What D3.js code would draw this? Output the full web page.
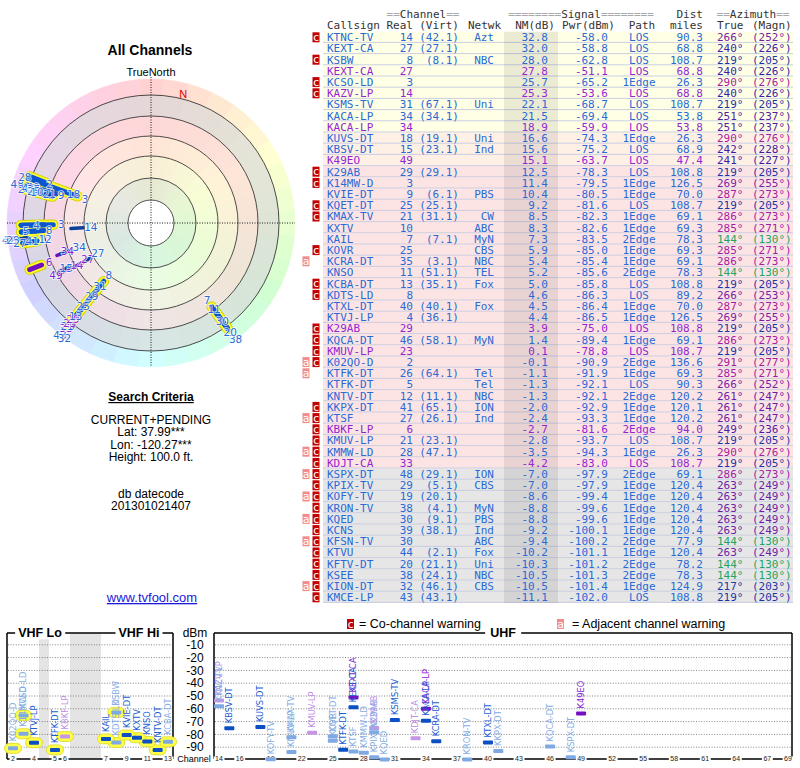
<!DOCTYPE html>
<html>
<head>
<meta charset="utf-8">
<title>All Channels</title>
<script src="https://cdn.jsdelivr.net/npm/d3@7"></script>
<style>
  body { margin: 0; background: #fff; }
  svg { display: block; }
</style>
</head>
<body>
<svg id="chart" width="800" height="768"></svg>
<script>
// ---- station list, in table order (strongest NM first) ----
var callsigns = ["KTNC-TV","KEXT-CA","KSBW","KEXT-CA","KCSO-LD","KAZV-LP","KSMS-TV","KACA-LP","KACA-LP","KUVS-DT",
  "KBSV-DT","K49EO","K29AB","K14MW-D","KVIE-DT","KQET-DT","KMAX-TV","KXTV","KAIL","KOVR",
  "KCRA-DT","KNSO","KCBA-DT","KDTS-LD","KTXL-DT","KTVJ-LP","K29AB","KQCA-DT","KMUV-LP","K02QO-D",
  "KTFK-DT","KTFK-DT","KNTV-DT","KKPX-DT","KTSF","KBKF-LP","KMUV-LP","KMMW-LD","KDJT-CA","KSPX-DT",
  "KPIX-TV","KOFY-TV","KRON-TV","KQED","KCNS","KFSN-TV","KTVU","KFTV-DT","KSEE","KION-DT","KMCE-LP"];
var realCh = [14,27,8,27,3,14,31,34,34,18, 15,49,29,3,9,25,21,10,7,25, 35,11,13,8,40,4,29,46,23,2,
  26,5,12,41,27,6,21,28,33,48, 29,19,38,30,39,30,44,20,38,32,43];
var virtCh = ["42.1","27.1","8.1","","","","67.1","34.1","","19.1", "23.1","","29.1","","6.1","25.1","31.1","","7.1","",
  "3.1","51.1","35.1","","40.1","36.1","","58.1","","", "64.1","","11.1","65.1","26.1","","23.1","47.1","","29.1",
  "5.1","20.1","4.1","9.1","38.1","","2.1","21.1","24.1","46.1","43.1"];
var networks = ["Azt","","NBC","","","","Uni","","","Uni", "Ind","","","","PBS","","CW","ABC","MyN","CBS",
  "NBC","TEL","Fox","","Fox","","","MyN","","", "Tel","Tel","NBC","ION","Ind","","","","","ION",
  "CBS","","MyN","PBS","Ind","ABC","Fox","Uni","NBC","CBS",""];
var nmDb = [32.8,32.0,28.0,27.8,25.7,25.3,22.1,21.5,18.9,16.6, 15.6,15.1,12.5,11.4,10.4,9.2,8.5,8.3,7.3,5.9,
  5.4,5.2,5.0,4.6,4.5,4.4,3.9,1.4,0.1,-0.1, -1.1,-1.3,-1.3,-2.0,-2.4,-2.7,-2.8,-3.5,-4.2,-7.0,
  -7.0,-8.6,-8.8,-8.8,-9.2,-9.4,-10.2,-10.3,-10.5,-10.5,-11.1];
var pwrDbm = [-58.0,-58.8,-62.8,-51.1,-65.2,-53.6,-68.7,-69.4,-59.9,-74.3, -75.2,-63.7,-78.3,-79.5,-80.5,-81.6,-82.3,-82.6,-83.5,-85.0,
  -85.4,-85.6,-85.8,-86.3,-86.4,-86.5,-75.0,-89.4,-78.8,-90.9, -91.9,-92.1,-92.1,-92.9,-93.3,-81.6,-93.7,-94.3,-83.0,-97.9,
  -97.9,-99.4,-99.6,-99.6,-100.1,-100.2,-101.1,-101.2,-101.3,-101.4,-102.0];
var paths = ["LOS","LOS","LOS","LOS","1Edge","LOS","LOS","LOS","LOS","1Edge", "LOS","LOS","LOS","1Edge","1Edge","LOS","1Edge","1Edge","2Edge","1Edge",
  "1Edge","2Edge","LOS","LOS","1Edge","1Edge","LOS","1Edge","LOS","2Edge", "1Edge","LOS","2Edge","1Edge","1Edge","2Edge","LOS","1Edge","LOS","2Edge",
  "1Edge","1Edge","1Edge","1Edge","1Edge","2Edge","1Edge","2Edge","2Edge","1Edge","LOS"];
var distMiles = [90.3,68.8,108.7,68.8,26.3,68.8,108.7,53.8,53.8,26.3, 68.9,47.4,108.8,126.5,70.0,108.7,69.1,69.3,78.3,69.3,
  69.1,78.3,108.8,89.2,70.0,126.5,108.8,69.1,108.7,136.6, 69.3,90.3,120.2,120.1,120.2,94.0,108.7,26.3,108.7,69.1,
  120.4,120.4,120.4,120.4,120.4,77.9,120.4,78.2,78.3,124.9,108.8];
var azTrue = [266,240,219,240,290,240,219,251,251,290, 242,241,219,269,287,219,286,285,144,285,
  286,144,219,266,287,269,219,286,219,291, 285,266,261,261,261,249,219,290,219,286,
  263,263,263,263,263,144,263,144,144,217,219];
var azMagn = [252,226,205,226,276,226,205,237,237,276, 228,227,205,255,273,205,273,271,130,271,
  273,130,205,253,273,255,205,273,205,277, 271,252,247,247,247,236,205,276,205,273,
  249,249,249,249,249,130,249,130,130,203,205];
var isAnalog = [0,0,0,1,0,1,0,0,1,0, 0,1,0,0,0,0,0,0,0,0, 0,0,0,0,0,0,1,0,1,0, 0,0,0,0,0,1,0,0,1,0, 0,0,0,0,0,0,0,0,0,0,0];
var coWarn   = [1,0,1,0,1,1,0,0,0,0, 0,0,1,1,0,1,1,0,0,1, 0,0,1,1,0,0,1,1,1,1, 0,0,0,1,1,1,1,1,1,1, 1,1,1,1,1,1,1,1,1,1,1];
var adjWarn  = [0,0,0,0,0,0,0,0,0,0, 0,0,0,0,0,0,0,0,0,0, 1,0,0,0,0,0,0,0,0,1, 1,0,0,0,1,0,0,1,0,1, 0,1,0,1,0,1,0,0,0,1,0];

var vhfTicks = [2, 4, 5, 6, 7, 9, 11, 13];
var uhfTicks = [14,16,19,22,25,28,31,34,37,40,43,46,49,52,55,58,61,64,67,69];
var dbmTicks = [-10,-20,-30,-40,-50,-60,-70,-80,-90];
var criteria = ["CURRENT+PENDING", "Lat: 37.99***", "Lon: -120.27***", "Height: 100.0 ft."];
var datecode = ["db datecode", "201301021407"];
var declination = 14;

var MONO = "'DejaVu Sans Mono', monospace";
var SANS = "'Liberation Sans', Arial, sans-serif";
var VERD = "'DejaVu Sans', Verdana, sans-serif";

var svg = d3.select("#chart");
var n = callsigns.length;
var stations = d3.range(n).map(function(i) {
  return { i: i, call: callsigns[i], ch: realCh[i], virt: virtCh[i], net: networks[i],
    nm: nmDb[i], pwr: pwrDbm[i], path: paths[i], dist: distMiles[i],
    azT: azTrue[i], azM: azMagn[i], analog: isAnalog[i] == 1, co: coWarn[i] == 1, adj: adjWarn[i] == 1 };
});

function textColor(d) { return d.analog ? "#9326d0" : "#2a6ad6"; }
function markColor(d) {
  if (d.analog) return d.co ? "#c596e6" : "#7410c0";
  return d.co ? "#7fa9e2" : "#0b4fc4";
}
function labelColor(d) {
  if (d.analog) return d.co ? "#c08ee4" : "#8a22d2";
  return d.co ? "#86aee4" : "#1b5ed2";
}
function azColor(az) { return d3.hsl((az * 1.05) % 360, 0.7, 0.38) + ""; }

// text with a white box behind it (used to break frame lines)
function boxedText(g, x, y, txt, size, weight, pad) {
  var t = g.append("text").attr("x", x).attr("y", y).attr("dy", "0.35em")
    .attr("text-anchor", "middle").attr("font-size", size)
    .attr("font-weight", weight || "normal").text(txt);
  var b = t.node().getBBox();
  g.insert("rect", function() { return t.node(); })
    .attr("x", b.x - pad).attr("y", b.y + 1).attr("width", b.width + 2 * pad).attr("height", b.height - 2)
    .attr("fill", "#fff");
  return t;
}

// ================= TABLE =================
var table = svg.append("g").attr("font-family", MONO).attr("font-size", 11);
var rowBand = d3.scaleBand().domain(d3.range(n)).range([31.7, 31.7 + n * 11.2]);
var rowFill = d3.scaleThreshold().domain([-5, 13, 17.5])
  .range(["#e6e6e6", "#fde4e4", "#fff0e6", "#ffffe6"]);

table.selectAll("rect.row").data(stations).enter().append("rect")
  .attr("class", "row")
  .attr("x", 323).attr("width", 470)
  .attr("y", function(d) { return rowBand(d.i); })
  .attr("height", rowBand.bandwidth())
  .attr("fill", function(d) { return rowFill(d.nm); });

table.selectAll("line.sep").data(stations).enter().append("line")
  .attr("x1", 323).attr("x2", 793)
  .attr("y1", function(d) { return rowBand(d.i) + rowBand.bandwidth() - 0.5; })
  .attr("y2", function(d) { return rowBand(d.i) + rowBand.bandwidth() - 0.5; })
  .attr("stroke", "#c5cadf").attr("stroke-width", 0.9);

// darker NM column
table.append("rect").attr("x", 504).attr("width", 54)
  .attr("y", rowBand.range()[0]).attr("height", rowBand.range()[1] - rowBand.range()[0])
  .attr("fill", "#000").attr("fill-opacity", 0.08);

// header
var hdr1 = [
  { x: 423, anchor: "middle", parts: ["==", "Channel", "=="] },
  { x: 581, anchor: "middle", parts: ["========", "Signal", "========"] },
  { x: 703, anchor: "end", parts: ["", "Dist", ""] },
  { x: 753, anchor: "middle", parts: ["==", "Azimuth", "=="] }
];
hdr1.forEach(function(h) {
  var t = table.append("text").attr("x", h.x).attr("y", 14.3).attr("dy", "0.35em")
    .attr("text-anchor", h.anchor);
  h.parts.forEach(function(p, k) {
    t.append("tspan").attr("fill", k == 1 ? "#333" : "#a8a8a8").text(p);
  });
});
var hdr2 = [
  { x: 327, anchor: "start", t: "Callsign" }, { x: 413, anchor: "end", t: "Real" },
  { x: 459, anchor: "end", t: "(Virt)" }, { x: 468, anchor: "start", t: "Netwk" },
  { x: 555, anchor: "end", t: "NM(dB)" }, { x: 615, anchor: "end", t: "Pwr(dBm)" },
  { x: 642, anchor: "middle", t: "Path" }, { x: 703, anchor: "end", t: "miles" },
  { x: 717, anchor: "start", t: "True" }, { x: 752, anchor: "start", t: "(Magn)" }
];
table.selectAll("text.h2").data(hdr2).enter().append("text")
  .attr("x", function(d) { return d.x; }).attr("y", 25.6).attr("dy", "0.35em")
  .attr("text-anchor", function(d) { return d.anchor; })
  .attr("fill", "#333").text(function(d) { return d.t; });

var cols = [
  { x: 327, anchor: "start", f: function(d) { return d.call; } },
  { x: 413, anchor: "end", f: function(d) { return d.ch; } },
  { x: 459, anchor: "end", f: function(d) { return d.virt ? "(" + d.virt + ")" : ""; } },
  { x: 494, anchor: "end", f: function(d) { return d.net; } },
  { x: 548, anchor: "end", f: function(d) { return d.nm.toFixed(1); } },
  { x: 608, anchor: "end", f: function(d) { return d.pwr.toFixed(1); } },
  { x: 639, anchor: "middle", f: function(d) { return d.path; } },
  { x: 703, anchor: "end", f: function(d) { return d.dist.toFixed(1); } },
  { x: 717, anchor: "start", az: true, f: function(d) { return d.azT + "\u00b0"; } },
  { x: 752, anchor: "start", az: true, f: function(d) { return "(" + d.azM + "\u00b0)"; } }
];
var rows = table.selectAll("g.r").data(stations).enter().append("g")
  .attr("transform", function(d) { return "translate(0," + (rowBand(d.i) + rowBand.bandwidth() / 2) + ")"; });
cols.forEach(function(c) {
  rows.append("text").attr("x", c.x).attr("dy", "0.35em").attr("text-anchor", c.anchor)
    .attr("fill", function(d) { return c.az ? azColor(d.azT) : textColor(d); })
    .text(c.f);
});
// warning flags
var coRows = rows.filter(function(d) { return d.co; });
coRows.append("rect").attr("x", 312.5).attr("y", -5).attr("width", 7).attr("height", 10).attr("fill", "#c20000");
coRows.append("text").attr("x", 316).attr("dy", "0.33em").attr("text-anchor", "middle")
  .attr("fill", "#fff").attr("font-size", 11).text("c");
var adjRows = rows.filter(function(d) { return d.adj; });
adjRows.append("rect").attr("x", 302.5).attr("y", -5).attr("width", 7).attr("height", 10).attr("fill", "#f28b8b");
adjRows.append("text").attr("x", 306).attr("dy", "0.33em").attr("text-anchor", "middle")
  .attr("fill", "#fff").attr("font-size", 11).text("a");

// ================= LEFT PANEL TEXT =================
var left = svg.append("g").attr("font-family", SANS).attr("text-anchor", "middle").attr("fill", "#000");
left.append("text").attr("x", 150).attr("y", 55).attr("font-size", 14).attr("font-weight", "bold").text("All Channels");
left.append("text").attr("x", 151).attr("y", 76).attr("font-size", 11).text("TrueNorth");
left.append("text").attr("x", 151).attr("y", 401).attr("font-size", 12).attr("font-weight", "bold")
  .attr("text-decoration", "underline").text("Search Criteria");
left.selectAll("text.crit").data(criteria).enter().append("text")
  .attr("x", 151).attr("y", function(d, k) { return 424 + k * 12.3; })
  .attr("font-size", 12).text(function(d) { return d; });
left.selectAll("text.date").data(datecode).enter().append("text")
  .attr("x", 151).attr("y", function(d, k) { return 498 + k * 12.3; })
  .attr("font-size", 12).text(function(d) { return d; });
left.append("text").attr("x", 152).attr("y", 602).attr("font-size", 13).attr("fill", "#1a1ad8")
  .attr("text-decoration", "underline").text("www.tvfool.com");

// ================= POLAR PLOT =================
var cx = 151, cy = 223;
var polar = svg.append("g").attr("transform", "translate(" + cx + "," + cy + ")");
var rS = d3.scaleLinear().domain([33, -12]).range([68, 130]).clamp(true);
var arc = d3.arc();
function rad(a) { return a * Math.PI / 180; }
function pxy(az, r) { return [r * Math.sin(rad(az)), -r * Math.cos(rad(az))]; }

var sectors = d3.range(0, 360, 10);
polar.selectAll("path.sec").data(sectors).enter().append("path")
  .attr("d", function(a) { return arc({ innerRadius: 127, outerRadius: 144, startAngle: rad(a - 5), endAngle: rad(a + 5) }); })
  .attr("fill", function(a) { return d3.hsl(a, 1, 0.91) + ""; })
  .attr("stroke", function(a) { return d3.hsl(a, 1, 0.91) + ""; }).attr("stroke-width", 0.6);
var rings = [
  { r0: 107, r1: 128, c: "#e3e3e3" }, { r0: 87, r1: 107, c: "#fde3e3" },
  { r0: 67, r1: 87, c: "#fff3e4" }, { r0: 45, r1: 67, c: "#f8fde2" },
  { r0: 23, r1: 45, c: "#e6f7e0" }, { r0: 0, r1: 23, c: "#ffffff" }
];
polar.selectAll("path.ring").data(rings).enter().append("path")
  .attr("d", function(d) { return arc({ innerRadius: d.r0, outerRadius: d.r1, startAngle: 0, endAngle: 2 * Math.PI }); })
  .attr("fill", function(d) { return d.c; });
// faint directional tint
polar.selectAll("path.tint").data(sectors).enter().append("path")
  .attr("d", function(a) { return arc({ innerRadius: 23, outerRadius: 128, startAngle: rad(a - 5), endAngle: rad(a + 5) }); })
  .attr("fill", function(a) { return d3.hsl(a, 1, 0.6) + ""; }).attr("fill-opacity", 0.07);
polar.selectAll("circle.gr").data([23, 45, 67, 87, 107, 128]).enter().append("circle")
  .attr("r", function(d) { return d; }).attr("fill", "none").attr("stroke", "#222").attr("stroke-width", 0.8);
polar.append("line").attr("x1", -144).attr("x2", 144).attr("stroke", "#000").attr("stroke-width", 0.9).attr("stroke-dasharray", "1,1.5");
polar.append("line").attr("y1", -146).attr("y2", 144).attr("stroke", "#000").attr("stroke-width", 0.9).attr("stroke-dasharray", "1,1.5");
var nPos = pxy(declination, 133);
polar.append("text").attr("x", nPos[0]).attr("y", nPos[1]).attr("dy", "0.35em").attr("text-anchor", "middle")
  .attr("font-family", SANS).attr("font-size", 11).attr("fill", "#e00000").text("N");

stations.forEach(function(d) {
  d.vhf = d.ch <= 13;
  d.r0 = rS(d.nm);
  d.r1 = d.vhf ? 130 : Math.min(d.r0 + 12, 132);
});
var byWeak = stations.slice().sort(function(a, b) { return a.nm - b.nm; });
var vhfOnly = byWeak.filter(function(d) { return d.vhf; });
function seg(sel) {
  return sel.attr("x1", function(d) { return pxy(d.azT, d.r0)[0]; }).attr("y1", function(d) { return pxy(d.azT, d.r0)[1]; })
    .attr("x2", function(d) { return pxy(d.azT, d.r1)[0]; }).attr("y2", function(d) { return pxy(d.azT, d.r1)[1]; })
    .attr("stroke-linecap", "round");
}
seg(polar.selectAll("line.halo").data(vhfOnly).enter().append("line"))
  .attr("stroke", "#d4d400").attr("stroke-width", 10.5);
seg(polar.selectAll("line.halo2").data(vhfOnly).enter().append("line"))
  .attr("stroke", "#ffff30").attr("stroke-width", 8.5);
seg(polar.selectAll("line.bar").data(byWeak).enter().append("line"))
  .attr("stroke", function(d) { return d.analog ? "#7410c0" : (d.vhf ? "#0b55d0" : "#0c3f9a"); })
  .attr("stroke-width", function(d) { return d.vhf ? 5 : 3.5; });

// channel labels, pushed outward along the bearing when they collide
var placed = [];
stations.slice().sort(function(a, b) { return b.nm - a.nm; }).forEach(function(d) {
  var r = d.r0 - 8, p = pxy(d.azT, r), k = 0;
  function hit(q) { return Math.abs(q[0] - p[0]) < 10 && Math.abs(q[1] - p[1]) < 9; }
  while (k < 8 && placed.some(hit)) { r += 3; p = pxy(d.azT, r); k++; }
  placed.push(p);
  d.lp = p;
});
polar.selectAll("text.lab").data(byWeak).enter().append("text")
  .attr("x", function(d) { return d.lp[0]; }).attr("y", function(d) { return d.lp[1]; })
  .attr("dy", "0.35em").attr("text-anchor", "middle")
  .attr("font-family", VERD).attr("font-size", 10.5)
  .attr("fill", function(d) { return d.analog ? "#8a22d2" : "#2a6ad6"; })
  .attr("stroke", "#fff").attr("stroke-width", 1.6).attr("stroke-opacity", 0.8)
  .attr("paint-order", "stroke")
  .text(function(d) { return d.ch; });

// ================= SPECTRUM CHARTS =================
var spec = svg.append("g").attr("font-family", SANS);
var yP = d3.scaleLinear().domain([0, -100]).range([632, 760]);
var xV = d3.scaleLinear().domain([2, 4, 5, 6, 7, 13]).range([13, 34, 55, 65, 106, 168]);
var xU = d3.scaleLinear().domain([14, 69]).range([219, 788]);
function xCh(ch) { return ch <= 13 ? xV(ch) : xU(ch); }
var frames = [{ x0: 7, x1: 173 }, { x0: 214, x1: 792 }];

// gaps in VHF band (ch 4-5 and FM band)
spec.append("rect").attr("x", xV(4) + 5).attr("width", xV(5) - xV(4) - 11).attr("y", 633).attr("height", 126).attr("fill", "#e4e4e4");
spec.append("rect").attr("x", xV(6) + 5).attr("width", xV(7) - xV(6) - 10).attr("y", 633).attr("height", 126).attr("fill", "#e4e4e4");

frames.forEach(function(f) {
  spec.selectAll(null).data(dbmTicks).enter().append("line")
    .attr("x1", f.x0 + 1).attr("x2", f.x1 - 1)
    .attr("y1", function(d) { return yP(d); }).attr("y2", function(d) { return yP(d); })
    .attr("stroke", "#666").attr("stroke-width", 0.8).attr("stroke-dasharray", "1,1.6");
  spec.append("line").attr("x1", f.x0).attr("x2", f.x1).attr("y1", 633).attr("y2", 633).attr("stroke", "#000").attr("stroke-width", 1.5);
  spec.append("line").attr("x1", f.x0).attr("x2", f.x0).attr("y1", 633).attr("y2", 759).attr("stroke", "#000").attr("stroke-width", 1.5);
  spec.append("line").attr("x1", f.x1).attr("x2", f.x1).attr("y1", 633).attr("y2", 759).attr("stroke", "#000").attr("stroke-width", 1.5);
  spec.append("line").attr("x1", f.x0).attr("x2", f.x1).attr("y1", 759).attr("y2", 759).attr("stroke", "#000").attr("stroke-width", 1.5);
});
boxedText(spec, 40, 633, "VHF Lo", 12.5, "bold", 3);
boxedText(spec, 139, 633, "VHF Hi", 12.5, "bold", 3);
boxedText(spec, 503, 633, "UHF", 12.5, "bold", 5);

spec.append("text").attr("x", 195).attr("y", 633).attr("dy", "0.35em").attr("text-anchor", "middle").attr("font-size", 12).text("dBm");
spec.selectAll("text.yt").data(dbmTicks).enter().append("text")
  .attr("x", 195).attr("y", function(d) { return yP(d); }).attr("dy", "0.35em")
  .attr("text-anchor", "middle").attr("font-size", 12).text(function(d) { return d; });
spec.append("text").attr("x", 194).attr("y", 759).attr("dy", "0.35em").attr("text-anchor", "middle").attr("font-size", 9).text("Channel");

var tickG = spec.append("g").attr("fill", "#222");
vhfTicks.forEach(function(c) { boxedText(tickG, xV(c), 759, c, 7, "normal", 1.5); });
uhfTicks.forEach(function(c) { boxedText(tickG, xU(c), 759, c, 7, "normal", 1.5); });

// legend
var leg = svg.append("g").attr("font-family", SANS).attr("font-size", 12.5);
leg.append("rect").attr("x", 347).attr("y", 619).attr("width", 7).attr("height", 10).attr("fill", "#c20000");
leg.append("text").attr("x", 350.5).attr("y", 624).attr("dy", "0.33em").attr("text-anchor", "middle")
  .attr("font-family", MONO).attr("font-size", 11).attr("fill", "#fff").text("c");
leg.append("text").attr("x", 359).attr("y", 624).attr("dy", "0.35em").text("= Co-channel warning");
leg.append("rect").attr("x", 557).attr("y", 619).attr("width", 7).attr("height", 10).attr("fill", "#f28b8b");
leg.append("text").attr("x", 560.5).attr("y", 624).attr("dy", "0.33em").attr("text-anchor", "middle")
  .attr("font-family", MONO).attr("font-size", 11).attr("fill", "#fff").text("a");
leg.append("text").attr("x", 572).attr("y", 624).attr("dy", "0.35em").text("= Adjacent channel warning");

// station marks (weakest drawn first)
var shown = byWeak.filter(function(d) { return d.pwr >= -100; });
spec.selectAll("rect.shalo").data(shown.filter(function(d) { return d.vhf; })).enter().append("rect")
  .attr("x", function(d) { return xCh(d.ch) - 8.5; }).attr("y", function(d) { return yP(d.pwr) - 5; })
  .attr("width", 17).attr("height", 10).attr("rx", 5)
  .attr("fill", "#ffff4a").attr("stroke", "#d8d820").attr("stroke-width", 0.8);
spec.selectAll("rect.sbar").data(shown).enter().append("rect")
  .attr("x", function(d) { return xCh(d.ch) - 5; }).attr("y", function(d) { return yP(d.pwr) - 2; })
  .attr("width", 10).attr("height", 4).attr("rx", 1)
  .attr("fill", markColor);
spec.selectAll("text.slab").data(shown).enter().append("text")
  .attr("transform", function(d) {
    return "translate(" + xCh(d.ch) + "," + (yP(d.pwr) - (d.vhf ? 7 : 5)) + ") rotate(-90)";
  })
  .attr("dy", "0.35em").attr("font-family", VERD).attr("font-size", 8.3)
  .attr("fill", labelColor).text(function(d) { return d.call; });
</script>
</body>
</html>
